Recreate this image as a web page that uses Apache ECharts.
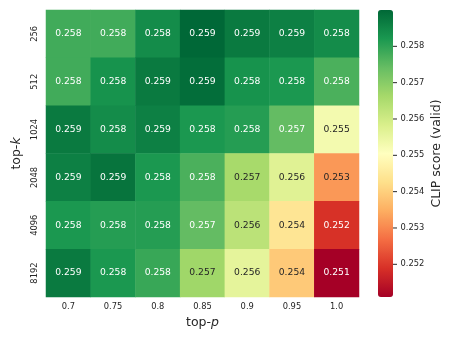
<!DOCTYPE html>
<html>
<head>
<meta charset="utf-8">
<script src="https://cdn.jsdelivr.net/npm/echarts@6/dist/echarts.min.js"></script>
<style>html,body{margin:0;padding:0;background:#fff;}#c{width:457px;height:343px;}</style>
</head>
<body>
<div id="c"></div>
<script>
// Data
const topK = ['256', '512', '1024', '2048', '4096', '8192'];
const topP = ['0.7', '0.75', '0.8', '0.85', '0.9', '0.95', '1.0'];
const row256  = [0.2578, 0.2578, 0.2584, 0.2590, 0.2587, 0.2586, 0.2584];
const row512  = [0.2578, 0.2583, 0.2587, 0.2589, 0.2583, 0.2582, 0.2577];
const row1024 = [0.2587, 0.2584, 0.2586, 0.2582, 0.2581, 0.25744, 0.2553];
const row2048 = [0.2586, 0.2588, 0.2582, 0.2577, 0.2566, 0.2557, 0.2532];
const row4096 = [0.2582, 0.2581, 0.2581, 0.25744, 0.2563, 0.2544, 0.2519];
const row8192 = [0.2587, 0.2582, 0.2579, 0.2567, 0.2556, 0.2539, 0.2511];
const colorbarTicks = [0.252, 0.253, 0.254, 0.255, 0.256, 0.257, 0.258];

const rows = [row256, row512, row1024, row2048, row4096, row8192];
const RdYlGn = ['#a50026','#d73027','#f46d43','#fdae61','#fee08b','#ffffbf','#d9ef8b','#a6d96a','#66bd63','#1a9850','#006837'];

let vmin = Infinity, vmax = -Infinity;
rows.forEach(r => r.forEach(v => { vmin = Math.min(vmin, v); vmax = Math.max(vmax, v); }));

function hexToRgb(h){return [parseInt(h.substr(1,2),16),parseInt(h.substr(3,2),16),parseInt(h.substr(5,2),16)];}
function cmap(t){
  t = Math.max(0, Math.min(1, t));
  const p = t * (RdYlGn.length - 1);
  const i = Math.min(Math.floor(p), RdYlGn.length - 2);
  const f = p - i;
  const a = hexToRgb(RdYlGn[i]), b = hexToRgb(RdYlGn[i+1]);
  return a.map((x, k) => x + (b[k] - x) * f);
}
function lum(rgb){
  const c = rgb.map(x => { x /= 255; return x <= 0.03928 ? x / 12.92 : Math.pow((x + 0.055) / 1.055, 2.4); });
  return 0.2126 * c[0] + 0.7152 * c[1] + 0.0722 * c[2];
}

const data = [];
rows.forEach((r, yi) => r.forEach((v, xi) => {
  const l = lum(cmap((v - vmin) / (vmax - vmin)));
  data.push({ value: [xi, yi, v], label: { color: l > 0.408 ? '#262626' : '#ffffff' } });
}));

const FONT = 'DejaVu Sans';
const chart = echarts.init(document.getElementById('c'), null, { renderer: 'canvas' });
chart.setOption({
  backgroundColor: '#ffffff',
  textStyle: { fontFamily: FONT },
  animation: false,
  grid: [
    { left: 46, top: 10, width: 313, height: 287 },
    { left: 378, top: 10, width: 15, height: 287 }
  ],
  xAxis: [
    {
      type: 'category', data: topP, gridIndex: 0, position: 'bottom',
      axisLine: { show: false }, axisTick: { show: false }, splitLine: { show: false },
      axisLabel: { fontSize: 8.3, color: '#262626', margin: 6, fontFamily: FONT },
      name: 'top-{i|p}', nameLocation: 'middle', nameGap: 17,
      nameTextStyle: { fontSize: 12.5, color: '#262626', fontFamily: FONT,
        rich: { i: { fontStyle: 'italic', fontSize: 12.5, color: '#262626', fontFamily: FONT } } }
    },
    { type: 'value', gridIndex: 1, show: false }
  ],
  yAxis: [
    {
      type: 'category', data: topK, gridIndex: 0, inverse: true,
      axisLine: { show: false }, axisTick: { show: false }, splitLine: { show: false },
      axisLabel: { fontSize: 8.3, color: '#262626', rotate: 90, margin: 7, fontFamily: FONT },
      name: 'top-{i|k}', nameLocation: 'middle', nameGap: 19, nameRotate: 90,
      nameTextStyle: { fontSize: 12.5, color: '#262626', fontFamily: FONT,
        rich: { i: { fontStyle: 'italic', fontSize: 12.5, color: '#262626', fontFamily: FONT } } }
    },
    {
      type: 'value', gridIndex: 1, position: 'right', min: vmin, max: vmax,
      axisLine: { show: false }, splitLine: { show: false }, axisTick: { show: false },
      axisLabel: {
        fontSize: 8.3, color: '#262626', margin: 0, fontFamily: FONT, customValues: colorbarTicks,
        formatter: v => '{t| }{g| }{n|' + v.toFixed(3) + '}',
        rich: {
          t: { width: 4, height: 1, backgroundColor: '#262626', fontSize: 1 },
          g: { width: 3.5, fontSize: 1 },
          n: { fontSize: 8.3, color: '#262626', fontFamily: FONT }
        }
      },
      name: 'CLIP score (valid)', nameLocation: 'middle', nameGap: 37, nameRotate: 90,
      nameTextStyle: { fontSize: 12.5, color: '#262626', fontFamily: FONT }
    }
  ],
  visualMap: {
    type: 'continuous', min: vmin, max: vmax, calculable: false, orient: 'vertical',
    left: 378, top: 10, itemWidth: 15, itemHeight: 287, padding: 0,
    seriesIndex: 0, inRange: { color: RdYlGn }, textStyle: { fontSize: 0 }
  },
  series: [{
    type: 'heatmap', xAxisIndex: 0, yAxisIndex: 0, data: data,
    label: { show: true, fontSize: 9.2, fontFamily: FONT, formatter: p => p.value[2].toFixed(3) },
    itemStyle: { borderWidth: 0 },
    emphasis: { disabled: true }
  }]
});
</script>
</body>
</html>
